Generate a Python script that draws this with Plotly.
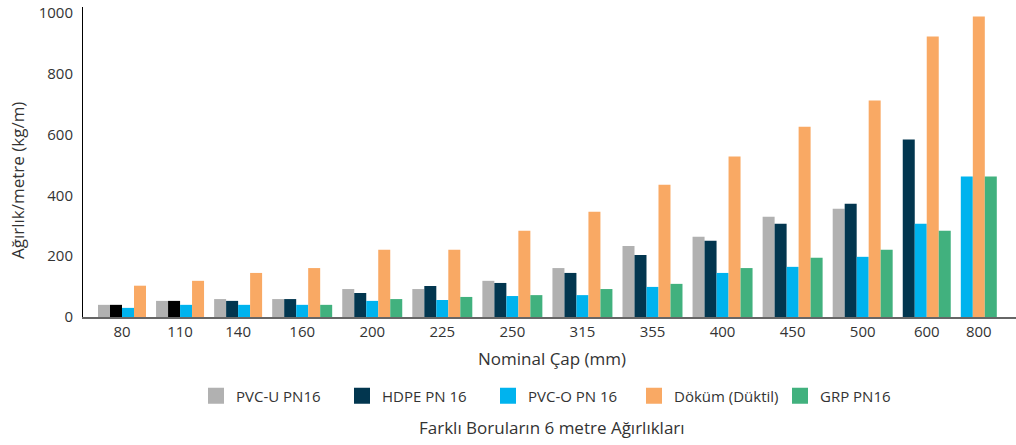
import plotly.graph_objects as go

# Nominal diameter categories (mm)
categories = ["80", "110", "140", "160", "200", "225", "250", "315", "355",
              "400", "450", "500", "600", "800"]

# Weight per metre (kg/m), None where the pipe type is not available
pvc_u = [40, 53, 59, 59, 92, 92, 119, 161, 234, 264, 330, 356, None, None]
hdpe = [40, 53, 53, 59, 79, 102, 112, 145, 204, 251, 307, 373, 584, None]
pvc_o = [30, 40, 40, 40, 53, 56, 69, 72, 99, 145, 165, 198, 307, 462]
dokum = [103, 119, 145, 161, 221, 221, 284, 346, 435, 528, 626, 712, 923, 989]
grp = [None, None, None, 40, 59, 66, 72, 92, 109, 161, 195, 221, 284, 462]

series_names = ["PVC-U PN16", "HDPE PN 16", "PVC-O PN 16", "Döküm (Düktil)", "GRP PN16"]
series_values = [pvc_u, hdpe, pvc_o, dokum, grp]
series_colors = ["#b1b1b1", "#02364f", "#00b3ee", "#f9a964", "#41b17e"]

# HDPE bars drawn in black instead of navy
hdpe_black = ["80", "110"]

GAP = 0.84  # space between groups, in bar widths

# Lay out bars: missing bars collapse, groups packed side by side
xs = [[] for _ in series_values]
ys = [[] for _ in series_values]
cats = [[] for _ in series_values]
group_centers = []
cursor = 0.0
for c_idx, cat in enumerate(categories):
    start = cursor
    for s_idx, vals in enumerate(series_values):
        v = vals[c_idx]
        if v is None:
            continue
        xs[s_idx].append(cursor + 0.5)
        ys[s_idx].append(v)
        cats[s_idx].append(cat)
        cursor += 1
    group_centers.append((start + cursor) / 2)
    cursor += GAP
total = cursor - GAP

fig = go.Figure()
for s_idx, name in enumerate(series_names):
    colors = [series_colors[s_idx]] * len(xs[s_idx])
    if name.startswith("HDPE"):
        colors = ["#000000" if c in hdpe_black else series_colors[s_idx] for c in cats[s_idx]]
    fig.add_trace(go.Bar(
        x=xs[s_idx],
        y=ys[s_idx],
        width=1,
        name=name,
        customdata=cats[s_idx],
        hovertemplate=name + "<br>%{customdata} mm: %{y} kg/m<extra></extra>",
        marker=dict(color=colors, line=dict(width=0)),
        showlegend=False,
    ))
    # legend swatch in the series' main colour (big square)
    fig.add_trace(go.Scatter(
        x=[None], y=[None], name=name, mode="markers",
        marker=dict(color=series_colors[s_idx], symbol="square", size=18),
    ))

font_family = "'Open Sans', Lato, sans-serif"
text_color = "#333333"

plot_left, plot_width = 83, 933
plot_top, plot_bottom = 7, 317
plot_h = plot_bottom - plot_top


def paper_x(px):
    return (px - plot_left) / plot_width


def paper_y(px):
    # convert a pixel row of the page into paper coordinates
    return (plot_bottom - px) / plot_h


fig.update_layout(
    width=1016,
    height=445,
    barmode="overlay",
    plot_bgcolor="white",
    paper_bgcolor="white",
    font=dict(family=font_family, size=15, color=text_color),
    margin=dict(l=plot_left, r=0, t=plot_top, b=445 - plot_bottom, autoexpand=False),
    showlegend=True,
    legend=dict(
        orientation="h",
        x=paper_x(561), xanchor="center",
        y=paper_y(396), yanchor="middle",
        font=dict(size=15, color=text_color),
        itemwidth=30,
        entrywidth=101,
        traceorder="normal",
    ),
    xaxis=dict(
        range=[-1.25, total + 1.6],
        tickmode="array",
        tickvals=group_centers,
        ticktext=categories,
        showgrid=False,
        zeroline=False,
        showline=True,
        linecolor="#666666",
        linewidth=2,
        ticks="",
        automargin=False,
        tickfont=dict(size=15, color=text_color),
    ),
    yaxis=dict(
        range=[0, 1020],
        tickvals=[0, 200, 400, 600, 800, 1000],
        showgrid=False,
        zeroline=False,
        showline=True,
        linecolor="#000000",
        linewidth=1,
        ticks="",
        ticklabelstandoff=6,
        automargin=False,
        tickfont=dict(size=15, color=text_color),
    ),
    annotations=[
        dict(
            text="Nominal Çap (mm)",
            x=paper_x(552), xref="paper", xanchor="center",
            y=paper_y(358), yref="paper", yanchor="middle",
            showarrow=False,
            font=dict(size=17, color=text_color),
        ),
        dict(
            text="Ağırlık/metre (kg/m)",
            x=paper_x(17), xref="paper", xanchor="center",
            y=paper_y(181), yref="paper", yanchor="middle",
            textangle=-90,
            showarrow=False,
            font=dict(size=17, color=text_color),
        ),
        dict(
            text="Farklı Boruların 6 metre Ağırlıkları",
            x=paper_x(552), xref="paper", xanchor="center",
            y=paper_y(427), yref="paper", yanchor="middle",
            showarrow=False,
            font=dict(size=17, color=text_color),
        ),
    ],
)

# drop the browser's default page margin so the figure sits at the top-left corner
fig.write_html(
    "out.html",
    config={"displayModeBar": False},
    post_script="document.body.style.margin = '0';",
)
